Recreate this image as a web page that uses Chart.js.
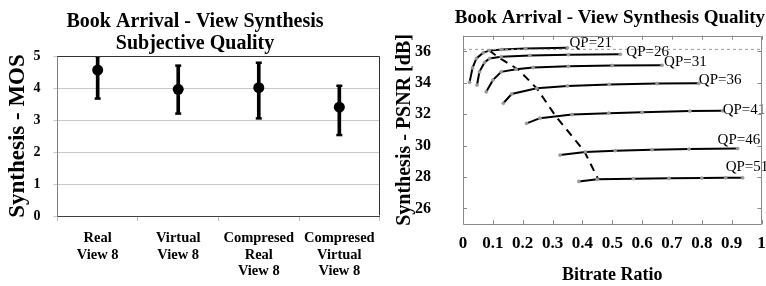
<!DOCTYPE html>
<html>
<head>
<meta charset="utf-8">
<script src="https://cdn.jsdelivr.net/npm/chart.js@4.4.1/dist/chart.umd.min.js"></script>
<style>
html,body{margin:0;padding:0;background:#fff;}
#wrap{position:relative;width:766px;height:286px;overflow:hidden;}
#c1box{position:absolute;left:0;top:0;width:390px;height:290px;}
#c2box{position:absolute;left:383px;top:0;width:383px;height:286px;}
</style>
</head>
<body>
<div id="wrap">
<div id="c1box"><canvas id="c1"></canvas></div>
<div id="c2box"><canvas id="c2"></canvas></div>
</div>
<script>
// ---------- Left panel data ----------
const mosCategories = [["Real","View 8"],["Virtual","View 8"],["Compresed","Real","View 8"],["Compresed","Virtual","View 8"]];
const mosMean = [4.56, 3.96, 4.01, 3.40];
const mosLow  = [3.67, 3.20, 3.05, 2.53];
const mosHigh = [5.00, 4.70, 4.79, 4.07];
const mosTicks = [0,1,2,3,4,5];

// ---------- Right panel data ----------
const qpNames = ["QP=21","QP=26","QP=31","QP=36","QP=41","QP=46","QP=51"];
const rateQP21 = [0.022, 0.032, 0.045, 0.068, 0.088, 0.13, 0.21, 0.35];
const psnrQP21 = [34.03, 34.95, 35.55, 35.92, 36.05, 36.12, 36.18, 36.23];
const rateQP26 = [0.047, 0.055, 0.072, 0.089, 0.128, 0.224, 0.353, 0.527];
const psnrQP26 = [33.86, 34.70, 35.30, 35.55, 35.66, 35.74, 35.79, 35.82];
const rateQP31 = [0.078, 0.100, 0.128, 0.178, 0.235, 0.353, 0.50, 0.667];
const psnrQP31 = [33.43, 34.17, 34.70, 34.87, 34.97, 35.05, 35.10, 35.12];
const rateQP36 = [0.135, 0.163, 0.247, 0.35, 0.49, 0.65, 0.79];
const psnrQP36 = [32.70, 33.29, 33.65, 33.80, 33.90, 33.95, 33.97];
const rateQP41 = [0.213, 0.258, 0.365, 0.488, 0.60, 0.76, 0.87];
const psnrQP41 = [31.42, 31.75, 31.98, 32.07, 32.12, 32.20, 32.22];
const rateQP46 = [0.325, 0.41, 0.51, 0.633, 0.757, 0.92];
const psnrQP46 = [29.40, 29.60, 29.68, 29.74, 29.78, 29.82];
const rateQP51 = [0.388, 0.45, 0.571, 0.69, 0.80, 0.88, 0.937];
const psnrQP51 = [27.72, 27.86, 27.90, 27.92, 27.94, 27.95, 27.95];
const rateOptimal = [0.088, 0.117, 0.185, 0.247, 0.312, 0.406, 0.453];
const psnrOptimal = [36.06, 35.64, 34.85, 33.65, 31.84, 29.66, 27.86];
const refLineRate = [0, 1];
const refLinePsnr = [36.13, 36.13];
const rateTicks = [0,0.1,0.2,0.3,0.4,0.5,0.6,0.7,0.8,0.9,1];
const psnrTicks = [26,28,30,32,34,36];

const serif = "'Liberation Serif','Times New Roman',serif";
Chart.defaults.font.family = serif;
Chart.defaults.color = '#000';
Chart.defaults.animation = false;

// ---------- Left chart ----------
const boxPlugin = {
  id:'box',
  afterDraw(chart, args, opts){
    const {ctx, chartArea:a} = chart;
    ctx.save();
    ctx.strokeStyle = opts.color || '#404040';
    ctx.lineWidth = 1;
    ctx.beginPath();
    ctx.moveTo(Math.round(a.left)+0.5, Math.round(a.top)+0.5);
    ctx.lineTo(Math.round(a.right)-0.5, Math.round(a.top)+0.5);
    ctx.lineTo(Math.round(a.right)-0.5, Math.round(a.bottom)-0.5);
    ctx.stroke();
    ctx.restore();
  }
};

new Chart(document.getElementById('c1'), {
  data: {
    labels: mosCategories,
    datasets: [
      { type:'bar', data: mosLow.map((l,i)=>[l, mosHigh[i]]), backgroundColor:'#000', barThickness:3, order:3 },
      { type:'line', data: mosHigh, showLine:false, pointStyle:'line', pointRadius:3, borderColor:'#000', borderWidth:2.5, order:2 },
      { type:'line', data: mosLow, showLine:false, pointStyle:'line', pointRadius:3, borderColor:'#000', borderWidth:2.5, order:2 },
      { type:'line', data: mosMean, showLine:false, pointStyle:'circle', pointRadius:5.5, backgroundColor:'#000', borderColor:'#000', borderWidth:0, order:1 }
    ]
  },
  options: {
    responsive:true, maintainAspectRatio:false,
    layout:{ padding:{ left:0, right:0, top:0, bottom:1.4 } },
    plugins:{
      legend:{display:false}, tooltip:{enabled:false},
      title:{ display:true, text:['Book Arrival - View Synthesis','Subjective Quality'],
        font:{ size:20, weight:'bold', family:serif, lineHeight:1.1 }, color:'#000',
        padding:{ top:11, bottom:1 } },
      box:{ color:'#333' }
    },
    scales:{
      x:{
        offset:true,
        grid:{ display:true, drawOnChartArea:false, offset:true, tickLength:5, color:'#bdbdbd' },
        border:{ color:'#404040' },
        ticks:{ font:{ size:14.5, weight:'bold', family:serif, lineHeight:1.14 }, color:'#000', padding:9, maxRotation:0, autoSkip:false }
      },
      y:{
        min:0, max:5,
        afterBuildTicks(s){ s.ticks = mosTicks.map(v=>({value:v})); },
        grid:{ color:'#c8c8c8', tickLength:4 },
        border:{ color:'#808080' },
        ticks:{ font:{ size:14, weight:'bold', family:serif }, color:'#000', padding:12.9 },
        title:{ display:true, text:'Synthesis - MOS', font:{ size:23, weight:'bold', family:serif, lineHeight:1.0 }, color:'#000', padding:{ top:6.5, bottom:-8.9 } }
      },
      yR:{
        position:'right', min:0, max:5,
        ticks:{ display:false },
        grid:{ display:false, drawTicks:true, tickLength:10.4 },
        border:{ display:false }
      }
    }
  },
  plugins:[boxPlugin]
});

// ---------- Right chart ----------
const qpRates = [rateQP21, rateQP26, rateQP31, rateQP36, rateQP41, rateQP46, rateQP51];
const qpPsnrs = [psnrQP21, psnrQP26, psnrQP31, psnrQP36, psnrQP41, psnrQP46, psnrQP51];
const labelOffsets = [[2,-5],[6,-2.5],[2,-3],[0,-3],[0,-1],[-20,-8],[-17,-10.5]];

const qpDatasets = qpRates.map((r,k)=>({
  type:'line', label: qpNames[k],
  data: r.map((x,i)=>({x:x, y:qpPsnrs[k][i]})),
  borderColor:'#000', borderWidth:2, tension:0,
  pointRadius:1.6, pointBackgroundColor:'#9a9a9a', pointBorderColor:'#9a9a9a', pointBorderWidth:0.5
}));

const qpLabelPlugin = {
  id:'qpLabels',
  afterDatasetsDraw(chart){
    const {ctx} = chart;
    const xs = chart.scales.x, ys = chart.scales.y;
    ctx.save();
    ctx.font = "15px " + serif;
    ctx.fillStyle = '#000';
    ctx.textAlign = 'left';
    ctx.textBaseline = 'middle';
    qpRates.forEach((r,k)=>{
      const n = r.length-1;
      const px = xs.getPixelForValue(r[n]) + labelOffsets[k][0];
      const py = ys.getPixelForValue(qpPsnrs[k][n]) + labelOffsets[k][1];
      ctx.fillText(qpNames[k], px, py);
    });
    ctx.restore();
  }
};

const innerTicksPlugin = {
  id:'innerTicks',
  afterDraw(chart){
    const {ctx, chartArea:a} = chart;
    const xs = chart.scales.x, ys = chart.scales.y;
    ctx.save();
    ctx.strokeStyle = '#8a8a8a';
    ctx.lineWidth = 1;
    ctx.beginPath();
    ctx.rect(Math.round(a.left)+0.5, Math.round(a.top)+0.5, Math.round(a.right-a.left)-1, Math.round(a.bottom-a.top)-1);
    rateTicks.forEach(v=>{
      const x = Math.round(xs.getPixelForValue(v))+0.5;
      ctx.moveTo(x, a.bottom); ctx.lineTo(x, a.bottom-4);
      ctx.moveTo(x, a.top); ctx.lineTo(x, a.top+4);
    });
    psnrTicks.forEach(v=>{
      const y = Math.round(ys.getPixelForValue(v))+0.5;
      ctx.moveTo(a.left, y); ctx.lineTo(a.left+4, y);
      ctx.moveTo(a.right, y); ctx.lineTo(a.right-4, y);
    });
    ctx.stroke();
    ctx.restore();
  }
};

new Chart(document.getElementById('c2'), {
  type:'line',
  data:{
    datasets:[
      { type:'line', data: refLineRate.map((x,i)=>({x:x, y:refLinePsnr[i]})), borderColor:'#9a9a9a', borderWidth:1, borderDash:[3,3], pointRadius:0 },
      ...qpDatasets,
      { type:'line', data: rateOptimal.map((x,i)=>({x:x, y:psnrOptimal[i]})), borderColor:'#000', borderWidth:2, borderDash:[8,6], pointRadius:0, tension:0 }
    ]
  },
  options:{
    responsive:true, maintainAspectRatio:false,
    layout:{ padding:{ left:0, right:1, top:0, bottom:0 } },
    plugins:{
      legend:{display:false}, tooltip:{enabled:false},
      title:{ display:true, align:'end', text:'Book Arrival - View Synthesis Quality',
        font:{ size:19, weight:'bold', family:serif, lineHeight:1.2 }, color:'#000',
        padding:{ top:6.6, bottom:6.3 } }
    },
    scales:{
      x:{
        type:'linear', min:0, max:1,
        afterBuildTicks(s){ s.ticks = rateTicks.map(v=>({value:v})); },
        grid:{ display:false, drawTicks:true, tickLength:8.8 },
        border:{ display:false },
        ticks:{ font:{ size:17, weight:'bold', family:serif, lineHeight:1.2 }, color:'#000', padding:0, maxRotation:0, autoSkip:false,
          callback:(v)=>String(Number(v.toFixed(1))) },
        title:{ display:true, text:'Bitrate Ratio', font:{ size:18, weight:'bold', family:serif, lineHeight:1.2 }, color:'#000', padding:{ top:11, bottom:0 } }
      },
      y:{
        type:'linear', min:25, max:37,
        afterBuildTicks(s){ s.ticks = psnrTicks.map(v=>({value:v})); },
        grid:{ display:false, drawTicks:true, tickLength:32 },
        border:{ display:false },
        ticks:{ font:{ size:16, weight:'bold', family:serif }, color:'#000', padding:0 },
        title:{ display:true, text:'Synthesis - PSNR [dB]', font:{ size:20, weight:'bold', family:serif, lineHeight:1.0 }, color:'#000', padding:{ top:12, bottom:0 } }
      }
    }
  },
  plugins:[qpLabelPlugin, innerTicksPlugin]
});
</script>
</body>
</html>
